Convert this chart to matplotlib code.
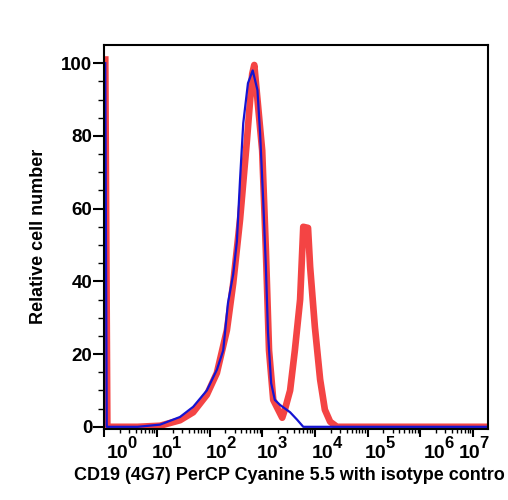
import matplotlib
matplotlib.use("Agg")
import matplotlib.pyplot as plt
import matplotlib.transforms as mtransforms
from matplotlib.ticker import FixedLocator, NullFormatter
import numpy as np

# ---- data ----
blue_x = [1.05, 1.12, 4.3, 11.5, 27.5, 49, 89, 138, 182, 224, 282, 331, 380,
          437, 537, 661, 813, 912, 1047, 1175, 1288, 1479, 1738, 2188, 3388,
          4571, 6026, 2.0e7]
blue_y = [100, 0, 0, 0.6, 2.7, 5.5, 10, 15.7, 21, 34, 42, 51, 68,
          83.5, 94.5, 98, 92.6, 80.8, 62, 44, 26, 12, 7.4, 6, 4,
          2, 0, 0]

red_x = [1.05, 1.15, 4.3, 11.5, 27.5, 49, 89, 138, 214, 282, 380, 515, 646,
         708, 1000, 1175, 1349, 1622, 2399, 2692, 3388, 4169, 5248, 6026,
         7413, 8128, 10000, 12589, 15488, 19498, 26303, 2.0e7]
red_y = [101, 0, 0, 0.3, 1.8, 4, 8.8, 14.8, 26.6, 39.5, 57, 79, 97,
         99.5, 76, 48.6, 21, 7.4, 2.5, 4.7, 10, 21, 35, 55,
         54.7, 44, 27.5, 13, 4.7, 1.4, 0, 0]

decades = list(range(0, 8))
yticks = [0, 20, 40, 60, 80, 100]

# the reference shows the axis title cut at the right edge
xlabel = "CD19 (4G7) PerCP Cyanine 5.5 with isotype contro"
ylabel = "Relative cell number"

# label nudges (px) — the original puts the decade labels slightly off the ticks
lab_dx = [3, -5, -4, -5, -3, -3, 4, -14]

plt.rcParams["font.family"] = ["Liberation Sans", "DejaVu Sans"]
plt.rcParams["font.weight"] = "bold"

fig = plt.figure(figsize=(5.08, 5.0), dpi=100)
ax = fig.add_axes([0.205, 0.142, 0.756, 0.768])

ax.plot(red_x, red_y, color="#f43a3a", lw=4.8, alpha=0.95, solid_joinstyle="round")
ax.plot(blue_x, blue_y, color="#1414d2", lw=1.6)

ax.set_xscale("log")
ax.set_xlim(1.0, 1.95e7)
ax.set_ylim(-0.6, 105)

ax.set_xticks([10.0 ** k for k in decades])
ax.xaxis.set_major_formatter(NullFormatter())
minor = [m * 10.0 ** k for k in decades for m in range(2, 10)]
ax.xaxis.set_minor_locator(FixedLocator(minor))
ax.xaxis.set_minor_formatter(NullFormatter())

ax.set_yticks(yticks)
ax.set_yticklabels([str(v) for v in yticks], fontsize=13.5, fontweight="bold")
ax.yaxis.set_minor_locator(FixedLocator(np.arange(0, 101, 5)))

ax.tick_params(axis="y", which="major", length=8, width=1.5, pad=0.5)
ax.tick_params(axis="y", which="minor", length=4, width=1.0)
ax.tick_params(axis="x", which="major", length=6, width=1.5)
ax.tick_params(axis="x", which="minor", length=3, width=1.0)

# decade labels: "10" plus a large superscript, drawn as two texts
px = 1 / fig.dpi
for k, dx in zip(decades, lab_dx):
    base_tr = ax.get_xaxis_transform() + mtransforms.ScaledTranslation(
        dx * px, -29 * px, fig.dpi_scale_trans)
    exp_tr = ax.get_xaxis_transform() + mtransforms.ScaledTranslation(
        (dx + 20.5) * px, -19 * px, fig.dpi_scale_trans)
    ax.text(10.0 ** k, 0, "10", transform=base_tr, fontsize=14,
            fontweight="bold", ha="left", va="baseline", clip_on=False)
    ax.text(10.0 ** k, 0, str(k), transform=exp_tr, fontsize=12,
            fontweight="bold", ha="left", va="baseline", clip_on=False)

for sp in ax.spines.values():
    sp.set_linewidth(1.5)

fig.text(38.5 / 508, 1 - 236.5 / 500, ylabel, rotation=90, fontsize=13,
         fontweight="bold", ha="center", va="center")
fig.text(505 / 508, 0.04, xlabel, fontsize=13, fontweight="bold",
         ha="right", va="baseline")

fig.savefig("out.png", dpi=100)
